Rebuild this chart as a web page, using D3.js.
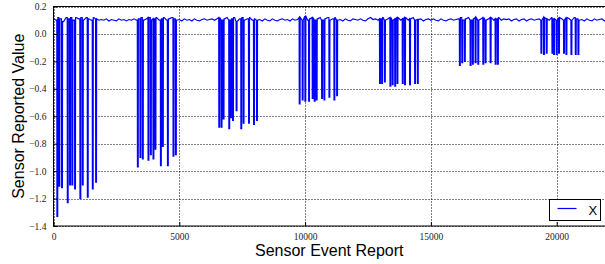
<!DOCTYPE html>
<html>
<head>
<meta charset="utf-8">
<script src="https://cdn.jsdelivr.net/npm/d3@7"></script>
<style>
    body { margin: 0; background: #fff; }
    svg { display: block; }
</style>
</head>
<body>
<div id="chart"></div>
<script>
// baseline readings, one every 100 events
let baseStep = 100;
let baseline = [
    0.11, 0.10, 0.12, 0.11, 0.09, 0.12, 0.11, 0.12, 0.10, 0.12,
    0.11, 0.12, 0.10, 0.12, 0.11, 0.10, 0.12, 0.11, 0.10, 0.105,
    0.10, 0.11, 0.095, 0.105, 0.10, 0.095, 0.11, 0.10, 0.105, 0.095,
    0.105, 0.10, 0.11, 0.10, 0.11, 0.12, 0.10, 0.11, 0.12, 0.10,
    0.11, 0.12, 0.10, 0.11, 0.12, 0.10, 0.11, 0.12, 0.11, 0.10,
    0.105, 0.095, 0.11, 0.10, 0.105, 0.095, 0.11, 0.10, 0.095, 0.105,
    0.11, 0.10, 0.105, 0.11, 0.10, 0.11, 0.12, 0.10, 0.11, 0.12,
    0.10, 0.11, 0.12, 0.09, 0.11, 0.12, 0.10, 0.11, 0.12, 0.10,
    0.11, 0.10, 0.105, 0.095, 0.11, 0.10, 0.095, 0.11, 0.10, 0.095,
    0.105, 0.11, 0.10, 0.105, 0.095, 0.11, 0.10, 0.105, 0.12, 0.10,
    0.13, 0.10, 0.11, 0.12, 0.10, 0.11, 0.12, 0.10, 0.11, 0.12,
    0.10, 0.11, 0.12, 0.10, 0.105, 0.095, 0.11, 0.10, 0.095, 0.11,
    0.105, 0.10, 0.11, 0.10, 0.095, 0.11, 0.12, 0.105, 0.11, 0.10,
    0.11, 0.12, 0.10, 0.11, 0.12, 0.10, 0.11, 0.12, 0.10, 0.11,
    0.12, 0.10, 0.11, 0.12, 0.10, 0.105, 0.11, 0.095, 0.105, 0.11,
    0.10, 0.11, 0.10, 0.095, 0.11, 0.10, 0.095, 0.105, 0.11, 0.10,
    0.105, 0.11, 0.12, 0.10, 0.11, 0.12, 0.10, 0.11, 0.12, 0.10,
    0.11, 0.12, 0.10, 0.11, 0.12, 0.10, 0.11, 0.12, 0.10, 0.11,
    0.105, 0.11, 0.095, 0.105, 0.11, 0.095, 0.105, 0.11, 0.095, 0.105,
    0.11, 0.10, 0.105, 0.11, 0.10, 0.12, 0.11, 0.10, 0.12, 0.11,
    0.10, 0.12, 0.11, 0.10, 0.12, 0.11, 0.10, 0.12, 0.11, 0.10,
    0.105, 0.095, 0.11, 0.10, 0.095, 0.11, 0.10, 0.105, 0.11, 0.095,
    0.105
];
// spike start (event index) and the value it drops to
let spikeAt = [
    131, 211, 318, 545, 637, 728, 836, 1047, 1142, 1341, 1540, 1672,
    3331, 3435, 3530, 3753, 3849, 3952, 4032, 4247, 4326, 4525, 4748, 4844,
    6567, 6659, 6739, 6965, 7033, 7113, 7256, 7443, 7535, 7749, 7948, 8067,
    9763, 9882, 9989, 10137, 10280, 10360, 10440, 10654, 10746, 10945, 11144, 11251,
    12956, 13040, 13150, 13370, 13460, 13560, 13650, 13860, 13950, 14150, 14350, 14460,
    16131, 16226, 16329, 16557, 16648, 16756, 16863, 17062, 17154, 17353, 17552, 17643,
    19370, 19474, 19582, 19809, 19873, 19980, 20071, 20270, 20366, 20565, 20736, 20843
];
let spikeValue = [
    -1.33, -1.11, -1.12, -1.23, -1.10, -1.10, -1.13, -1.20, -1.10, -1.19, -1.13, -1.08,
    -0.97, -0.90, -0.91, -0.92, -0.88, -0.91, -0.84, -0.96, -0.82, -0.96, -0.89, -0.88,
    -0.68, -0.68, -0.62, -0.69, -0.61, -0.63, -0.56, -0.69, -0.65, -0.65, -0.66, -0.63,
    -0.51, -0.48, -0.49, -0.49, -0.47, -0.49, -0.48, -0.47, -0.48, -0.46, -0.48, -0.45,
    -0.36, -0.36, -0.35, -0.38, -0.37, -0.38, -0.36, -0.36, -0.37, -0.37, -0.36, -0.36,
    -0.23, -0.21, -0.20, -0.23, -0.22, -0.21, -0.22, -0.22, -0.21, -0.21, -0.22, -0.22,
    -0.14, -0.15, -0.14, -0.14, -0.15, -0.15, -0.14, -0.14, -0.15, -0.15, -0.15, -0.15
];
let spikeWidth = 36;
let xTicks = [0, 5000, 10000, 15000, 20000];
let yTicks = [0.2, 0.0, -0.2, -0.4, -0.6, -0.8, -1.0, -1.2, -1.4];
let seriesName = 'X';

let W = 605, H = 264;
let mLeft = 53.5, mRight = 607, mTop = 6.5, mBottom = 226;

let svg = d3.select('#chart').append('svg')
    .attr('width', W)
    .attr('height', H);

let xScale = d3.scaleLinear().domain([0, 22000]).range([mLeft, mRight]);
let yScale = d3.scaleLinear().domain([-1.4, 0.2]).range([mBottom, mTop]);

//nearest baseline reading
let baseAt = function (x) {
    let i = Math.max(0, Math.min(baseline.length - 1, Math.round(x / baseStep)));
    return baseline[i];
};

//build the series: baseline readings with the spikes cut in
let points = [];
baseline.forEach(function (v, i) {
    let x = i * baseStep;
    let inside = spikeAt.some(function (s) {
        return x >= s && x <= s + spikeWidth + 10;
    });
    if (!inside) points.push([x, v]);
});
spikeAt.forEach(function (s, i) {
    points.push([s, baseAt(s)]);
    points.push([s + 6, spikeValue[i]]);
    points.push([s + spikeWidth, spikeValue[i]]);
    points.push([s + spikeWidth + 6, baseAt(s + spikeWidth + 6)]);
});
points.sort(function (a, b) { return a[0] - b[0]; });

//clip to the axes
svg.append('clipPath').attr('id', 'plotClip')
    .append('rect')
    .attr('x', mLeft).attr('y', mTop)
    .attr('width', mRight - mLeft).attr('height', mBottom - mTop);

//grid
let grid = svg.append('g').attr('class', 'grid');
grid.selectAll('line.gy')
    .data(yTicks)
    .enter().append('line')
    .attr('x1', mLeft).attr('x2', mRight)
    .attr('y1', function (d) { return Math.round(yScale(d)) + 0.5; })
    .attr('y2', function (d) { return Math.round(yScale(d)) + 0.5; })
    .attr('stroke', '#000')
    .attr('stroke-width', 1)
    .attr('stroke-dasharray', '1,2');
grid.selectAll('line.gx')
    .data(xTicks)
    .enter().append('line')
    .attr('y1', mTop).attr('y2', mBottom)
    .attr('x1', function (d) { return Math.round(xScale(d)) + 0.5; })
    .attr('x2', function (d) { return Math.round(xScale(d)) + 0.5; })
    .attr('stroke', '#000')
    .attr('stroke-width', 1)
    .attr('stroke-dasharray', '1,2');

//line
let lineGen = d3.line()
    .x(function (d) { return xScale(d[0]); })
    .y(function (d) { return yScale(d[1]); });
svg.append('path')
    .attr('d', lineGen(points))
    .attr('clip-path', 'url(#plotClip)')
    .attr('fill', 'none')
    .attr('stroke', '#0000ff')
    .attr('stroke-width', 1.2)
    .attr('stroke-linejoin', 'miter');

//frame
svg.append('rect')
    .attr('x', mLeft).attr('y', mTop)
    .attr('width', mRight - mLeft).attr('height', mBottom - mTop)
    .attr('fill', 'none')
    .attr('stroke', '#000')
    .attr('stroke-width', 1);

//ticks pointing inwards
let xAxis = d3.axisBottom(xScale).tickValues(xTicks).tickSize(-4).tickPadding(7)
    .tickFormat(d3.format('d'));
let yAxis = d3.axisLeft(yScale).tickValues(yTicks).tickSize(-4).tickPadding(7)
    .tickFormat(function (d) { return d3.format('.1f')(d).replace('-', '\u2212'); });
let gx = svg.append('g').attr('transform', 'translate(0,' + mBottom + ')').call(xAxis);
let gy = svg.append('g').attr('transform', 'translate(' + mLeft + ',0)').call(yAxis);
[gx, gy].forEach(function (g) {
    g.select('.domain').remove();
    g.selectAll('text')
        .attr('font-family', '"Liberation Serif", serif')
        .attr('font-size', 9.5)
        .attr('fill', '#222');
});

//axis titles
svg.append('text')
    .attr('x', (mLeft + mRight) / 2 - 1)
    .attr('y', 256)
    .attr('text-anchor', 'middle')
    .attr('font-family', '"Liberation Sans", Arial, sans-serif')
    .attr('font-size', 16)
    .text('Sensor Event Report');
svg.append('text')
    .attr('transform', 'translate(24,' + ((mTop + mBottom) / 2) + ') rotate(-90)')
    .attr('text-anchor', 'middle')
    .attr('font-family', '"Liberation Sans", Arial, sans-serif')
    .attr('font-size', 16)
    .text('Sensor Reported Value');

//legend
let lg = svg.append('g').attr('transform', 'translate(549.5,199.5)');
lg.append('rect')
    .attr('width', 51).attr('height', 21)
    .attr('fill', '#fff')
    .attr('stroke', '#000')
    .attr('stroke-width', 1);
lg.append('line')
    .attr('x1', 8).attr('x2', 27)
    .attr('y1', 9).attr('y2', 9)
    .attr('stroke', '#0000ff')
    .attr('stroke-width', 1.2);
lg.append('text')
    .attr('x', 39).attr('y', 15)
    .attr('font-family', '"Liberation Sans", Arial, sans-serif')
    .attr('font-size', 13)
    .text(seriesName);
</script>
</body>
</html>
